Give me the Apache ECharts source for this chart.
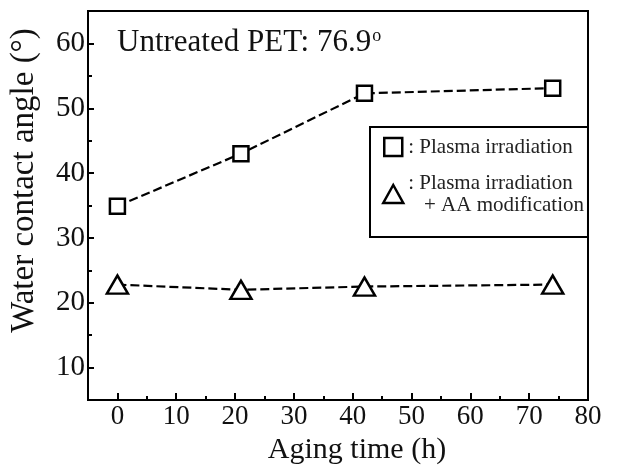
<!DOCTYPE html>
<html><head><meta charset="utf-8">
<script src="https://cdn.jsdelivr.net/npm/echarts@6/dist/echarts.min.js"></script>
<style>html,body{margin:0;padding:0;background:#fff}#c{width:631px;height:470px}</style>
</head><body><div id="c"></div>
<script>
// ---- data ----
const agingTime = [0, 21, 42, 74];
const plasmaOnly = [34.9, 43.0, 52.3, 53.1];
const plasmaAA = [22.8, 22.0, 22.5, 22.8];
const xTicks = [0, 10, 20, 30, 40, 50, 60, 70, 80];
const yTicks = [10, 20, 30, 40, 50, 60];
const seriesNames = ['Plasma irradiation', 'Plasma irradiation + AA modification'];
const legendLabels = [': Plasma irradiation', ': Plasma irradiation\n   + AA modification'];
const noteMain = 'Untreated PET: 76.9';
const noteSup = 'o';
const xTitle = 'Aging time (h)';
const yTitle = 'Water contact angle (\u00B0)';

const FONT = "'Liberation Serif', 'Times New Roman', serif";
const chart = echarts.init(document.getElementById('c'), null, {renderer: 'canvas'});
const squarePath = 'path://M0,0L10,0L10,10L0,10Z';

function pairs(xs, ys) { return xs.map((x, i) => [x, ys[i]]); }

const markerStyle = {color: '#fff', borderColor: '#000', borderWidth: 2.5};
const dashLine = {color: '#000', width: 2.2, type: [9, 4]};

chart.setOption({
  animation: false,
  backgroundColor: '#fff',
  title: {
    left: 112, top: 22,
    text: '{a|' + noteMain + '}{s|' + noteSup + '}',
    textStyle: {
      fontWeight: 'normal',
      rich: {
        a: {fontFamily: FONT, fontSize: 31, fontWeight: 'normal', color: '#111'},
        s: {fontFamily: FONT, fontSize: 18, fontWeight: 'normal', color: '#111', verticalAlign: 'top', padding: [0, 0, 14, 1]}
      }
    }
  },
  legend: {
    left: 370, top: 127, orient: 'vertical',
    padding: [9, 4, 10, 12], itemGap: 3,
    borderColor: '#000', borderWidth: 2,
    itemWidth: 20, itemHeight: 18,
    itemGap: 3,
    selectedMode: false,
    itemStyle: {color: '#fff', borderColor: '#000', borderWidth: 2.5},
    textStyle: {fontFamily: FONT, fontSize: 21, lineHeight: 22, color: '#222'},
    data: [
      {name: seriesNames[0], icon: squarePath},
      {name: seriesNames[1], icon: 'triangle', textStyle: {padding: [22, 0, 0, 0]}}
    ],
    formatter: function (n) { return legendLabels[seriesNames.indexOf(n)]; }
  },
  grid: [
    {left: 88, right: 43, top: 11, bottom: 70, show: true, borderColor: '#000', borderWidth: 2, backgroundColor: 'transparent'},
    {left: 88, right: 43, top: 11, bottom: 70, show: false}
  ],
  xAxis: [
    {
      type: 'value', gridIndex: 0, min: -5, max: 80,
      axisLine: {show: true, onZero: false, lineStyle: {color: '#000', width: 2}},
      axisTick: {show: true, inside: true, length: 7, customValues: xTicks, lineStyle: {color: '#000', width: 2}},
      axisLabel: {customValues: xTicks, fontFamily: FONT, fontSize: 27, color: '#111', margin: 3},
      splitLine: {show: false},
      name: xTitle, nameLocation: 'middle', nameGap: 35,
      nameTextStyle: {fontFamily: FONT, fontSize: 30, color: '#111', padding: [0, 0, 0, 38]}
    },
    {
      type: 'value', gridIndex: 1, min: -5, max: 80, interval: 5, position: 'bottom',
      axisLine: {show: false, onZero: false},
      axisTick: {show: true, inside: true, length: 4, lineStyle: {color: '#000', width: 2}},
      axisLabel: {show: false}, splitLine: {show: false}
    }
  ],
  yAxis: [
    {
      type: 'value', gridIndex: 0, min: 5, max: 65,
      axisLine: {show: true, onZero: false, lineStyle: {color: '#000', width: 2}},
      axisTick: {show: true, inside: true, length: 6, customValues: yTicks, lineStyle: {color: '#000', width: 2}},
      axisLabel: {customValues: yTicks, fontFamily: FONT, fontSize: 29, color: '#111', margin: 3},
      splitLine: {show: false},
      name: yTitle, nameLocation: 'middle', nameGap: 47,
      nameTextStyle: {fontFamily: FONT, fontSize: 33, color: '#111', padding: [0, 0, 0, 50]}
    },
    {
      type: 'value', gridIndex: 1, min: 5, max: 65, interval: 5, position: 'left',
      axisLine: {show: false, onZero: false},
      axisTick: {show: true, inside: true, length: 4, lineStyle: {color: '#000', width: 2}},
      axisLabel: {show: false}, splitLine: {show: false}
    }
  ],
  series: [
    {
      name: seriesNames[0], type: 'line', xAxisIndex: 0, yAxisIndex: 0,
      data: pairs(agingTime, plasmaOnly),
      symbol: 'rect', symbolSize: 15,
      itemStyle: markerStyle, lineStyle: dashLine, z: 3
    },
    {
      name: seriesNames[1], type: 'line', xAxisIndex: 0, yAxisIndex: 0,
      data: pairs(agingTime, plasmaAA),
      symbol: 'triangle', symbolSize: [21, 18],
      itemStyle: markerStyle, lineStyle: dashLine, z: 3
    }
  ]
});
</script></body></html>
